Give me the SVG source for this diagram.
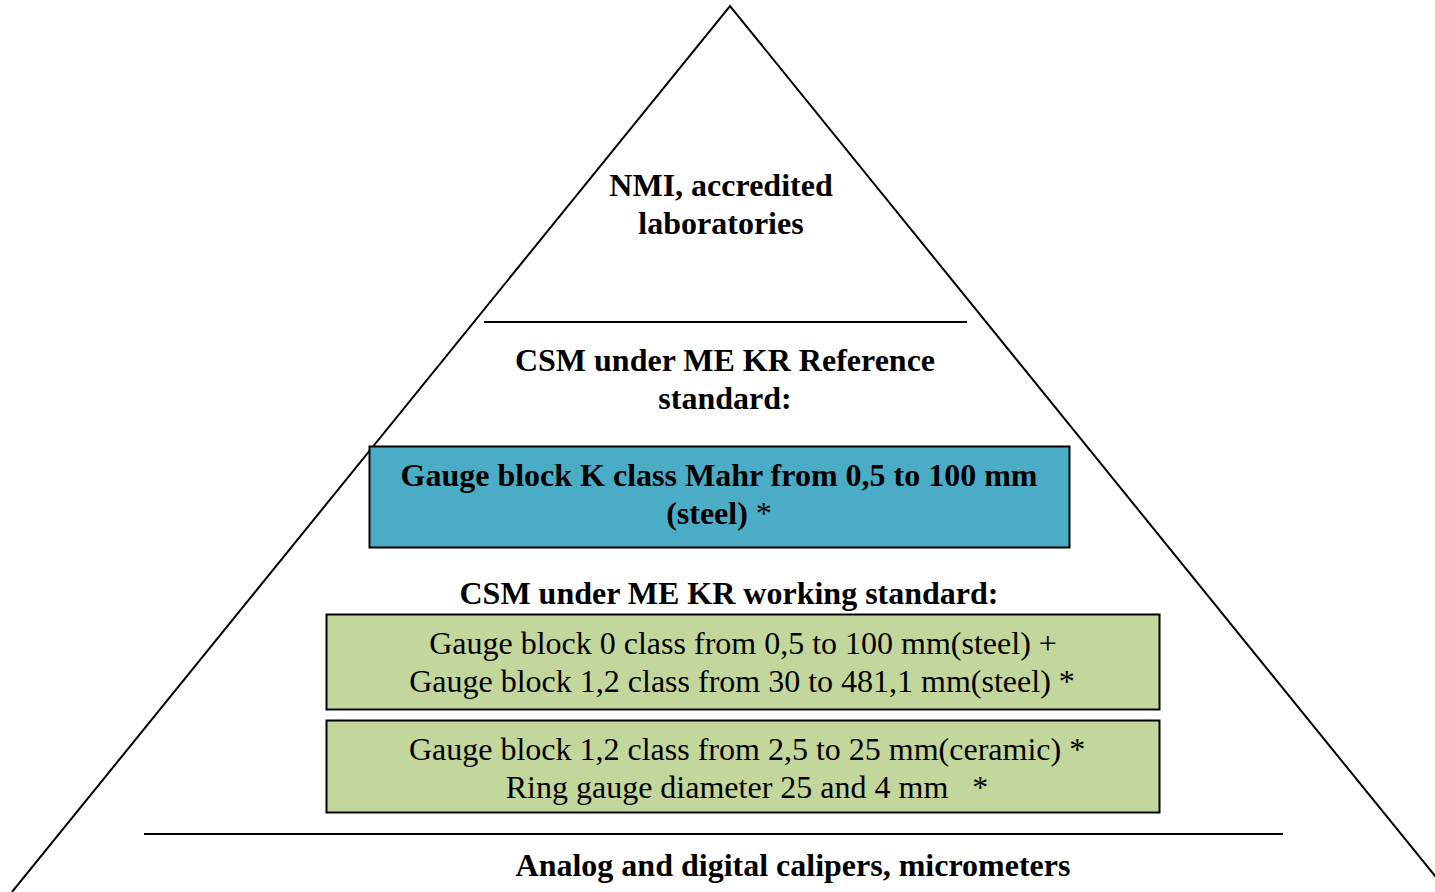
<svg xmlns="http://www.w3.org/2000/svg" width="1435" height="892" viewBox="0 0 1435 892">
<style>
.t{font-family:"Liberation Serif","Times New Roman",serif;font-size:32px;fill:#000;text-anchor:middle}
.b{font-weight:bold}
.ln{stroke:#000;stroke-width:2;fill:none}
.box{stroke:#000;stroke-width:2}
</style>
<rect width="1435" height="892" fill="#fff"/>
<g id="pyramid">
<polyline class="ln" points="12,892 730,6 1448,892"/>
<line class="ln" x1="484" y1="322" x2="967" y2="322"/>
<line class="ln" x1="144" y1="834" x2="1283" y2="834"/>
</g>
<g id="nmi">
<text class="t b" x="721" y="196">NMI, accredited</text>
<text class="t b" x="721" y="234">laboratories</text>
</g>
<g id="reference">
<text class="t b" x="725" y="371">CSM under ME KR Reference</text>
<text class="t b" x="725" y="409">standard:</text>
</g>
<g id="gaugeK">
<rect class="box" x="369.500" y="446.500" width="700" height="101" fill="#4BACC6"/>
<text class="t b" x="719" y="486">Gauge block K class Mahr from 0,5 to 100 mm</text>
<text class="t" x="719" y="524"><tspan font-weight="bold">(steel)</tspan> *</text>
</g>
<g id="working">
<text class="t b" x="729" y="604">CSM under ME KR working standard:</text>
</g>
<g id="green1">
<rect class="box" x="326.500" y="614.500" width="833" height="95" fill="#C3D69B"/>
<text class="t" x="743" y="654">Gauge block 0 class from 0,5 to 100 mm(steel) +</text>
<text class="t" x="742" y="692">Gauge block 1,2 class from 30 to 481,1 mm(steel) *</text>
</g>
<g id="green2">
<rect class="box" x="326.500" y="720.500" width="833" height="92" fill="#C3D69B"/>
<text class="t" x="747" y="760">Gauge block 1,2 class from 2,5 to 25 mm(ceramic) *</text>
<text class="t" x="747" y="798" xml:space="preserve">Ring gauge diameter 25 and 4 mm   *</text>
</g>
<g id="base">
<text class="t b" x="793" y="876">Analog and digital calipers, micrometers</text>
</g>
</svg>
